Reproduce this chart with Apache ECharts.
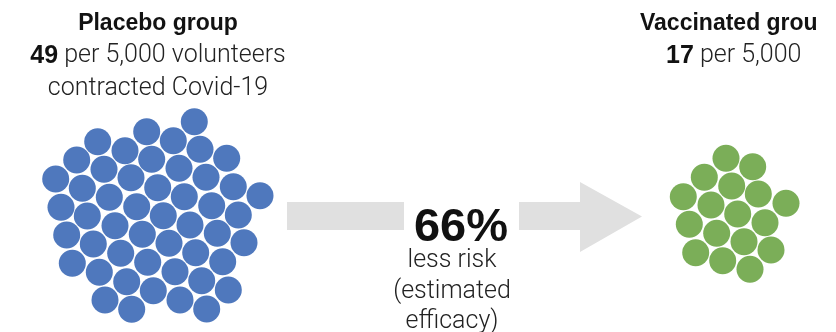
<!DOCTYPE html>
<html><head><meta charset="utf-8">
<script src="https://cdn.jsdelivr.net/npm/echarts@6/dist/echarts.min.js"></script>
<style>html,body{margin:0;padding:0;background:#fff}#c{width:836px;height:332px}</style>
</head><body><div id="c"></div>
<script>
// Circle centres (pixel-space units on hidden axes)
const placeboX = [194.3,146.7,173.3,97.7,125,200,76.7,151.7,226.7,104,179,55.7,131,206,82.3,157.7,233.3,260,109.3,184.3,61,136.7,211.7,87.3,163.3,238.3,115,190,66.7,142.3,217.3,93.3,169,244,120.7,195.7,72.3,147.7,222.7,99.3,175,126.7,201.7,153.3,228.3,105,180,131.7,206.7];
const placeboY = [121.7,131.7,140.7,141.7,150.7,149.3,160,159.3,158.3,169.3,168.3,179,177.7,177.3,188.3,187.7,186.7,195.7,197.3,196.7,207.3,206.7,205.7,216,215.7,215,225.7,225,235,234.3,233.3,244,243.3,242.7,253.3,252.7,263.3,262.3,261.7,272.3,271.7,281.7,280.7,290.7,290,300,300,309.3,309];
const vaccX = [726,752.7,704.3,731.7,758.3,683.3,786,711,737.7,689.3,765,716.7,744,771,695.7,722.7,750];
const vaccY = [158.3,166.7,177.3,186,194,196.7,203.3,205,214,224.3,222.7,233.3,241.7,250,252.7,260.7,269.3];
const titles = ['Placebo group', 'Vaccinated grou'];
const counts = [49, 17];
const efficacy = '66%';

const chart = echarts.init(document.getElementById('c'));
const zip = (xs, ys) => xs.map((x, i) => [x, ys[i]]);
const boldF = 'Liberation Sans';
const regF = 'Roboto';
const reg = '300 25px "' + regF + '"';
const bold = 'bold 25px "' + boldF + '"';
const ttl = 'bold 23px "' + boldF + '"';
chart.setOption({
  animation: false,
  grid: {left: 0, right: 0, top: 0, bottom: 0},
  xAxis: {type: 'value', min: 0, max: 836, show: false},
  yAxis: {type: 'value', min: 0, max: 332, inverse: true, show: false},
  series: [
    {type: 'scatter', symbol: 'circle', symbolSize: 27, itemStyle: {color: '#4F78BD', opacity: 1}, data: zip(placeboX, placeboY), silent: true},
    {type: 'scatter', symbol: 'circle', symbolSize: 27, itemStyle: {color: '#7BAE58', opacity: 1}, data: zip(vaccX, vaccY), silent: true}
  ],
  graphic: [
    {type: 'rect', shape: {x: 287, y: 202, width: 117, height: 28}, style: {fill: '#E0E0E0'}, z: 1},
    {type: 'polygon', shape: {points: [[519, 202], [580, 202], [580, 182], [642, 216.5], [580, 252], [580, 230], [519, 230]]}, style: {fill: '#E0E0E0'}, z: 1},
    {type: 'text', style: {text: titles[0], x: 158, y: 23.5, fill: '#121212', font: ttl, textAlign: 'center', textVerticalAlign: 'middle'}},
    {type: 'text', style: {x: 158, y: 56, textAlign: 'center', textVerticalAlign: 'middle', text: '{b|' + counts[0] + '} per 5,000 volunteers', rich: {b: {font: bold, fill: '#121212'}}, font: reg, fill: '#222'}},
    {type: 'text', style: {x: 158, y: 89, textAlign: 'center', textVerticalAlign: 'middle', text: 'contracted Covid-19', font: reg, fill: '#222'}},
    {type: 'text', style: {x: 640, y: 23.5, textAlign: 'left', textVerticalAlign: 'middle', text: titles[1], fill: '#121212', font: ttl}},
    {type: 'text', style: {x: 666, y: 56, textAlign: 'left', textVerticalAlign: 'middle', text: '{b|' + counts[1] + '} per 5,000', rich: {b: {font: bold, fill: '#121212'}}, font: reg, fill: '#222'}},
    {type: 'text', style: {x: 461, y: 228.5, textAlign: 'center', textVerticalAlign: 'middle', text: efficacy, fill: '#111', font: 'bold 47px "' + boldF + '"'}},
    {type: 'text', style: {x: 452, y: 261, textAlign: 'center', textVerticalAlign: 'middle', text: 'less risk', font: reg, fill: '#222'}},
    {type: 'text', style: {x: 452, y: 292, textAlign: 'center', textVerticalAlign: 'middle', text: '(estimated', font: reg, fill: '#222'}},
    {type: 'text', style: {x: 452, y: 322, textAlign: 'center', textVerticalAlign: 'middle', text: 'efficacy)', font: reg, fill: '#222'}}
  ]
});
</script></body></html>
